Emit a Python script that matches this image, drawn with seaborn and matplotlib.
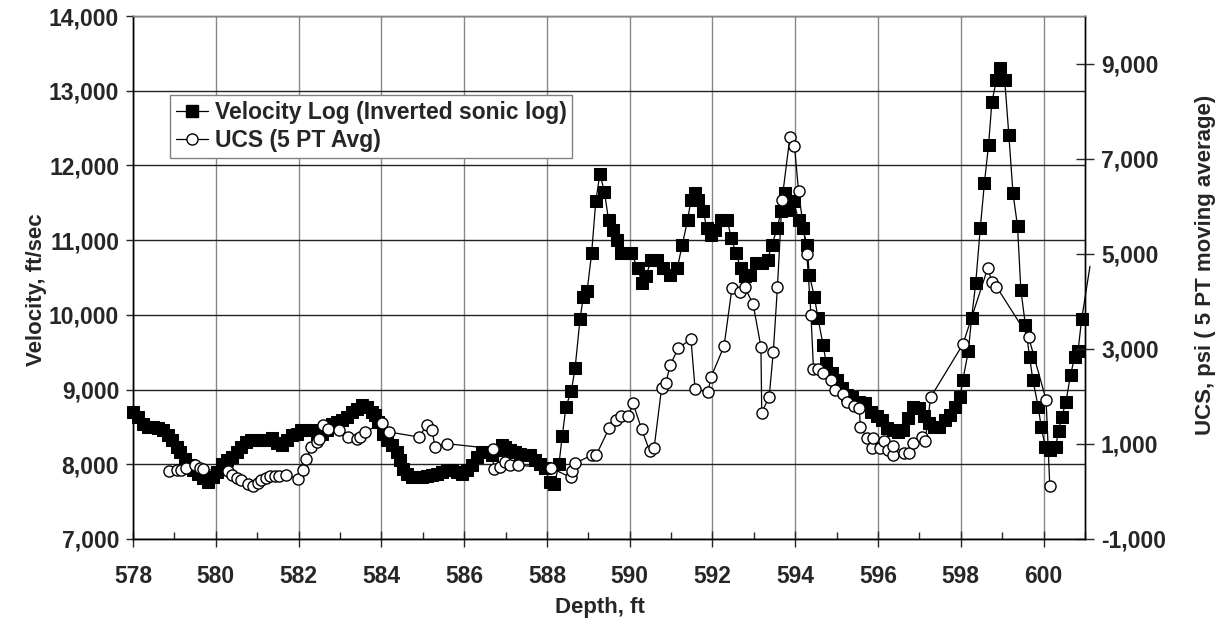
import matplotlib
matplotlib.use('Agg')
import numpy as np
import pandas as pd
import matplotlib.pyplot as plt
from matplotlib.ticker import MultipleLocator, FuncFormatter
from matplotlib.lines import Line2D
import seaborn as sns

sns.set_style('white')
plt.rcParams['font.family'] = ['Liberation Sans', 'DejaVu Sans']
plt.rcParams['font.weight'] = 'bold'

# ── Data ───────────────────────────────────────────────────────
vel_depth = [578.00, 578.12, 578.24, 578.36, 578.48, 578.60, 578.73, 578.85, 578.93, 579.05,
             579.13, 579.25, 579.37, 579.45, 579.57, 579.69, 579.81, 579.94, 580.03, 580.14,
             580.26, 580.38, 580.50, 580.62, 580.74, 580.86, 580.98, 581.10, 581.23, 581.35,
             581.47, 581.59, 581.71, 581.83, 581.95, 582.07, 582.19, 582.31, 582.44, 582.56,
             582.68, 582.80, 582.92, 583.04, 583.16, 583.28, 583.40, 583.52, 583.65, 583.77,
             583.85, 583.93, 584.05, 584.13, 584.25, 584.37, 584.45, 584.53, 584.61, 584.73,
             584.85, 584.98, 585.10, 585.22, 585.34, 585.46, 585.58, 585.70, 585.82, 585.94,
             586.06, 586.19, 586.31, 586.43, 586.55, 586.67, 586.79, 586.91, 586.99, 587.11,
             587.23, 587.35, 587.48, 587.60, 587.72, 587.84, 587.96, 588.07, 588.18, 588.29,
             588.37, 588.46, 588.59, 588.68, 588.80, 588.88, 588.97, 589.08, 589.18, 589.28,
             589.39, 589.49, 589.60, 589.70, 589.80, 589.91, 590.03, 590.20, 590.29, 590.39,
             590.52, 590.65, 590.81, 590.98, 591.15, 591.27, 591.40, 591.48, 591.57, 591.65,
             591.78, 591.86, 591.96, 592.07, 592.20, 592.36, 592.45, 592.57, 592.68, 592.78,
             592.91, 593.04, 593.20, 593.33, 593.44, 593.56, 593.66, 593.75, 593.86, 593.96,
             594.08, 594.18, 594.28, 594.34, 594.46, 594.55, 594.67, 594.75, 594.88, 595.01,
             595.13, 595.26, 595.38, 595.55, 595.68, 595.84, 595.97, 596.10, 596.22, 596.35,
             596.47, 596.60, 596.73, 596.85, 596.98, 597.10, 597.23, 597.35, 597.48, 597.61,
             597.73, 597.86, 597.98, 598.05, 598.18, 598.26, 598.36, 598.47, 598.57, 598.67,
             598.75, 598.86, 598.95, 599.06, 599.16, 599.26, 599.37, 599.45, 599.56, 599.66,
             599.74, 599.87, 599.94, 600.04, 600.16, 600.29, 600.36, 600.44, 600.54, 600.65,
             600.75, 600.83, 600.92, 601.12]
velocity = [8700, 8635, 8545, 8500, 8500, 8480, 8455, 8390, 8320, 8230,
            8165, 8075, 7990, 7920, 7875, 7810, 7765, 7830, 7895, 8010,
            8055, 8100, 8165, 8230, 8300, 8320, 8320, 8320, 8330, 8345,
            8280, 8255, 8320, 8390, 8410, 8455, 8455, 8455, 8410, 8410,
            8455, 8545, 8565, 8590, 8635, 8700, 8745, 8790, 8770, 8700,
            8655, 8565, 8410, 8320, 8255, 8165, 8055, 7940, 7875, 7830,
            7830, 7830, 7840, 7855, 7875, 7895, 7920, 7930, 7895, 7875,
            7920, 7985, 8100, 8165, 8165, 8120, 8190, 8255, 8230, 8190,
            8165, 8135, 8120, 8120, 8055, 8010, 7945, 7760, 7730, 8000,
            8380, 8770, 8985, 9285, 9945, 10245, 10315, 10825, 11520, 11890,
            11640, 11270, 11140, 11005, 10830, 10830, 10830, 10625, 10425, 10515,
            10735, 10735, 10625, 10535, 10625, 10940, 11270, 11540, 11630, 11540,
            11385, 11160, 11070, 11140, 11270, 11270, 11025, 10825, 10625, 10515,
            10535, 10690, 10690, 10735, 10940, 11160, 11385, 11630, 11405, 11520,
            11270, 11160, 10940, 10535, 10245, 9955, 9600, 9355, 9220, 9130,
            9020, 8930, 8905, 8840, 8815, 8705, 8640, 8595, 8480, 8460,
            8435, 8460, 8615, 8770, 8750, 8640, 8550, 8505, 8505, 8595,
            8660, 8770, 8905, 9130, 9510, 9955, 10425, 11160, 11765, 12275,
            12845, 13145, 13305, 13145, 12410, 11630, 11185, 10335, 9865, 9440,
            9130, 8770, 8505, 8235, 8190, 8235, 8440, 8635, 8840, 9195,
            9435, 9510, 9945, 10650]

ucs_depth = [578.87, 579.05, 579.17, 579.29, 579.49, 579.61, 579.69, 580.30, 580.38, 580.50,
             580.62, 580.78, 580.90, 581.02, 581.10, 581.21, 581.31, 581.43, 581.53, 581.69,
             581.99, 582.10, 582.19, 582.31, 582.44, 582.50, 582.60, 582.70, 582.98, 583.20,
             583.40, 583.48, 583.60, 584.01, 584.19, 584.90, 585.10, 585.22, 585.30, 585.58,
             586.69, 586.71, 586.87, 586.99, 587.11, 587.29, 588.09, 588.57, 588.60, 588.68,
             589.08, 589.19, 589.50, 589.68, 589.78, 589.97, 590.08, 590.29, 590.48, 590.59,
             590.77, 590.87, 590.98, 591.17, 591.48, 591.58, 591.89, 591.97, 592.28, 592.47,
             592.66, 592.78, 592.98, 593.17, 593.19, 593.37, 593.47, 593.57, 593.68, 593.87,
             593.98, 594.08, 594.28, 594.38, 594.44, 594.55, 594.67, 594.86, 594.96, 595.15,
             595.26, 595.43, 595.55, 595.57, 595.74, 595.85, 595.87, 596.05, 596.14, 596.25,
             596.35, 596.37, 596.62, 596.75, 596.85, 597.06, 597.14, 597.27, 598.05, 598.65,
             598.75, 598.86, 599.64, 600.06, 600.15]
ucs = [430, 445, 445, 500, 550, 500, 465, 430, 340, 290,
       250, 150, 110, 180, 235, 290, 325, 325, 320, 340,
       270, 460, 690, 935, 1040, 1110, 1390, 1320, 1285, 1145,
       1110, 1145, 1250, 1430, 1250, 1145, 1390, 1285, 935, 1005,
       900, 480, 515, 620, 550, 550, 500, 295, 435, 590,
       765, 765, 1325, 1500, 1585, 1585, 1855, 1305, 855, 920,
       2170, 2275, 2660, 3010, 3205, 2145, 2100, 2415, 3060, 4275,
       4205, 4290, 3945, 3045, 1655, 1995, 2940, 4310, 6135, 7455,
       7275, 6310, 4995, 3705, 2575, 2575, 2485, 2345, 2135, 2050,
       1890, 1795, 1745, 1360, 1115, 920, 1115, 920, 1060, 870,
       765, 955, 815, 800, 1010, 1135, 1060, 1980, 3095, 4695,
       4415, 4310, 3240, 1925, 110]

vel_df = pd.DataFrame({'Depth': vel_depth, 'Velocity': velocity})
ucs_df = pd.DataFrame({'Depth': ucs_depth, 'UCS': ucs})

# ── Figure ─────────────────────────────────────────────────────
fig = plt.figure(figsize=(12.15, 6.35), dpi=100)
ax = fig.add_axes([0.1095, 0.1512, 0.7835, 0.8236])
ax2 = ax.twinx()

sns.lineplot(data=vel_df, x='Depth', y='Velocity', ax=ax, sort=False, estimator=None,
             color='black', linewidth=0.9, marker='s', markersize=8,
             markeredgecolor='black', markerfacecolor='black',
             markevery=list(range(len(vel_df) - 1)), clip_on=False, zorder=3)
sns.lineplot(data=ucs_df, x='Depth', y='UCS', ax=ax2, sort=False, estimator=None,
             color='black', linewidth=0.9, marker='o', markersize=8,
             markeredgecolor='black', markerfacecolor='white', markeredgewidth=1,
             clip_on=False, zorder=3)

# axes ranges & ticks
ax.set_xlim(578, 601)
ax.set_ylim(7000, 14000)
ax2.set_ylim(-1000, 10000)
ax.xaxis.set_major_locator(MultipleLocator(2))
ax.xaxis.set_minor_locator(MultipleLocator(1))
ax.yaxis.set_major_locator(MultipleLocator(1000))
ax2.set_yticks(np.arange(-1000, 9001, 2000))
comma = FuncFormatter(lambda v, p: f'{v:,.0f}')
ax.yaxis.set_major_formatter(comma)
ax2.yaxis.set_major_formatter(comma)

ax.grid(axis='y', color='#222222', linewidth=1)
ax.grid(axis='x', which='major', color='#888888', linewidth=1)
ax.set_axisbelow(True)

ax.tick_params(axis='x', which='major', direction='inout', length=11, width=1,
               labelsize=16.5, pad=13, bottom=True)
ax.tick_params(axis='x', which='minor', direction='in', length=5, width=1, bottom=True)
ax.tick_params(axis='y', direction='out', length=5, width=1, labelsize=16.5, pad=5, left=True)
ax2.tick_params(axis='y', direction='inout', length=13, width=1, labelsize=16.5, pad=5, right=True)

for a in (ax, ax2):
    for s in a.spines.values():
        s.set_color('black')
        s.set_linewidth(1)
    a.spines['top'].set_color('#888888')

ax.set_xlabel('Depth, ft', fontsize=16, fontweight='bold')
ax.xaxis.set_label_coords(0.49, -0.11)
ax.set_ylabel('Velocity, ft/sec', fontsize=16, fontweight='bold')
ax.yaxis.set_label_coords(-0.09, 0.476)
ax2.set_ylabel('UCS, psi ( 5 PT moving average)', fontsize=16, fontweight='bold')
ax2.yaxis.set_label_coords(1.116, 0.524)

# legend
handles = [Line2D([], [], color='black', linewidth=0.9, marker='s', markersize=8,
                  markerfacecolor='black', markeredgecolor='black'),
           Line2D([], [], color='black', linewidth=0.9, marker='o', markersize=8,
                  markerfacecolor='white', markeredgecolor='black')]
leg = ax2.legend(handles, ['Velocity Log (Inverted sonic log)', 'UCS (5 PT Avg)'],
                 loc='upper left', bbox_to_anchor=(0.039, 0.849), borderaxespad=0,
                 fancybox=False, framealpha=1, edgecolor='#808080', fontsize=16.5,
                 handlelength=1.4, handletextpad=0.3, borderpad=0.25, labelspacing=0.25)
leg.get_frame().set_linewidth(1)
for t in leg.get_texts():
    t.set_fontweight('bold')

fig.savefig('out.png', dpi=100)
